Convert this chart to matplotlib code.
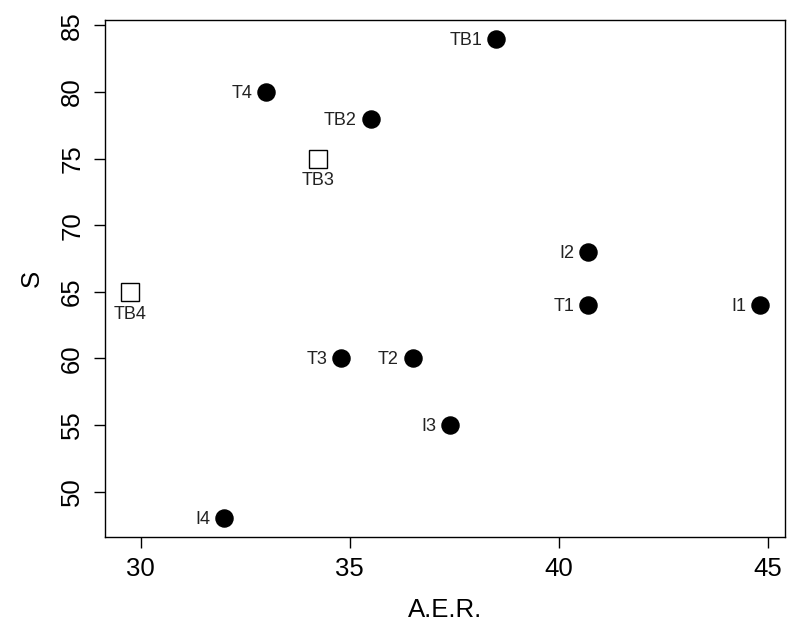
import matplotlib
matplotlib.use("Agg")
import matplotlib.pyplot as plt

plt.rcParams['font.family'] = ['Liberation Sans', 'DejaVu Sans']

names = ["TB1", "T4", "TB2", "TB3", "I2", "TB4", "T1", "I1", "T3", "T2", "I3", "I4"]
aer = [38.5, 33.0, 35.5, 34.25, 40.7, 29.75, 40.7, 44.8, 34.8, 36.5, 37.4, 32.0]
s_vals = [84, 80, 78, 75, 68, 65, 64, 64, 60, 60, 55, 48]
open_sq = ["TB3", "TB4"]

fig = plt.figure(figsize=(7.87, 6.30), dpi=100)
ax = fig.add_axes([0.1334, 0.147, 0.864, 0.822])

for n, x, y in zip(names, aer, s_vals):
    if n in open_sq:
        ax.plot(x, y, marker='s', ms=12.5, mfc='white', mec='black', mew=1.0, ls='none')
        ax.annotate(n, (x, y), xytext=(0, -10), textcoords='offset points',
                    ha='center', va='top', fontsize=13, color='#222222')
    else:
        ax.plot(x, y, marker='o', ms=12.3, mfc='black', mec='black', ls='none')
        ax.annotate(n, (x, y), xytext=(-10, -1), textcoords='offset points',
                    ha='right', va='center', fontsize=13, color='#222222')

xr = max(aer) - min(aer)
yr = max(s_vals) - min(s_vals)
ax.set_xlim(min(aer) - 0.04 * xr, max(aer) + 0.04 * xr)
ax.set_ylim(min(s_vals) - 0.04 * yr, max(s_vals) + 0.04 * yr)
ax.set_xticks([30, 35, 40, 45])
ax.set_yticks([50, 55, 60, 65, 70, 75, 80, 85])
ax.tick_params(axis='both', labelsize=18.5, length=8, width=1, pad=6)
ax.tick_params(axis='y', pad=7)
for lab in ax.get_yticklabels():
    lab.set_rotation(90)
    lab.set_va('center')
ax.set_xlabel("A.E.R.", fontsize=18.5, labelpad=12)
ax.set_ylabel("S", fontsize=18.5, labelpad=12)
for sp in ax.spines.values():
    sp.set_linewidth(1.0)

fig.savefig("out.png", dpi=100)
